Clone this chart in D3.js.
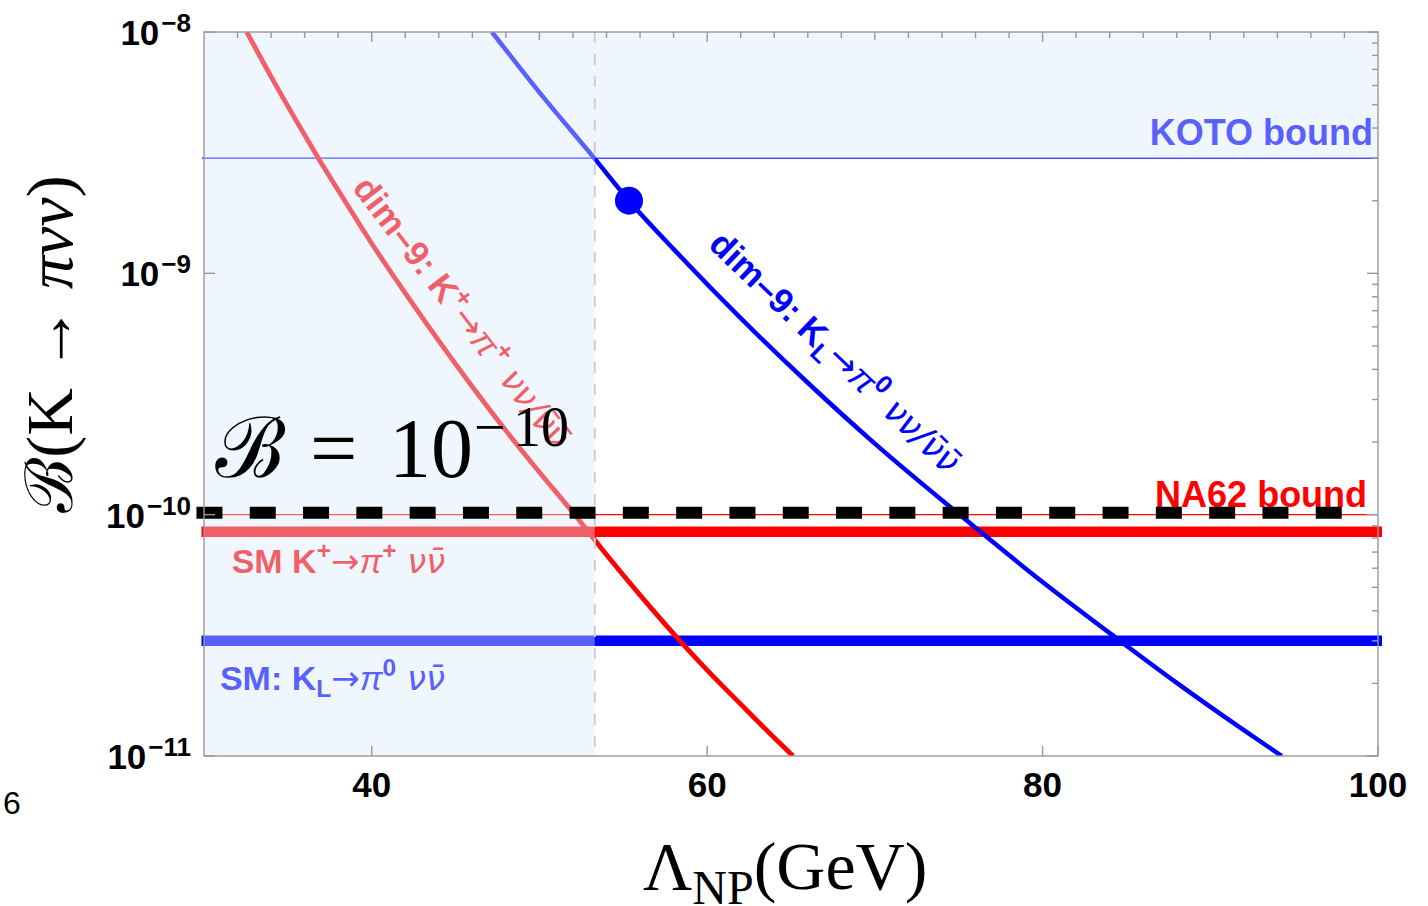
<!DOCTYPE html>
<html><head><meta charset="utf-8">
<script src="https://cdn.jsdelivr.net/npm/d3@7"></script>
<style>body{margin:0;background:#fff;} svg{display:block}</style>
</head><body><svg id="c" width="1428" height="906"></svg>
<script>
// ---------- data ----------
const xTickValues = [40, 60, 80, 100];
const xTickLabels = ["40", "60", "80", "100"];
const yTickExponents = [-8, -9, -10, -11];
const yTickLabels = ["\u22128", "\u22129", "\u221210", "\u221211"];

// dim-9 K+ -> pi+ nu nu curve
const lambdaKplus = [32.55, 34, 36, 36.82, 38, 40, 42, 44, 46, 48, 50, 52, 54, 56, 58.38, 60, 62, 64, 65.12];
const brKplus = [1.0e-8, 6.53e-9, 3.74e-9, 3.0e-9, 2.21e-9, 1.33e-9, 8.28e-10, 5.25e-10, 3.39e-10, 2.23e-10, 1.50e-10, 1.02e-10, 6.82e-11, 4.64e-11, 3.0e-11, 2.27e-11, 1.64e-11, 1.19e-11, 1.0e-11];

// dim-9 KL -> pi0 nu nu curve
const lambdaKL = [47.17, 50, 53.27, 55.34, 58, 62, 66, 70, 74.9, 80, 84.62, 88, 92, 94.26];
const brKL = [1.0e-8, 5.62e-9, 3.0e-9, 2.0e-9, 1.26e-9, 6.52e-10, 3.52e-10, 1.97e-10, 1.02e-10, 5.26e-11, 3.0e-11, 2.01e-11, 1.28e-11, 1.0e-11];

// benchmark point
const pointLambda = [55.34];
const pointBR = [2.0e-9];

// horizontal reference levels
const smKplus = 8.5e-11;
const smKL = 3.0e-11;
const kotoBound = 3.0e-9;
const na62Bound = 1.0e-10;
const benchmarkBR = 1.0e-10;
const lambdaExcluded = 53.3;

// ---------- setup ----------
const L = 204, R = 1378, T = 32, B = 756;
const svg = d3.select("#c");
const x = d3.scaleLinear().domain([30, 100]).range([L, R]);
const y = d3.scaleLog().domain([1e-11, 1e-8]).range([B, T]);

const RED = "#ff0000", BLUE = "#0000ff";
const SANS = "'Liberation Sans', Arial, Helvetica, sans-serif";
const SERIF = "'Liberation Serif', 'Times New Roman', 'DejaVu Serif', serif";
const DV = "'DejaVu Sans', sans-serif";

svg.append("defs").append("clipPath").attr("id", "clip")
  .append("rect").attr("x", L).attr("y", T).attr("width", R - L).attr("height", B - T);

function rich(sel, parts, size) {
  let shift = 0;
  parts.forEach(p => {
    const target = p.s === "sup" ? -size * 0.40 : p.s === "sub" ? size * 0.22 : 0;
    const ts = sel.append("tspan").text(p.t).attr("dy", target - shift);
    shift = target;
    if (p.s === "sup" || p.s === "sub") ts.attr("font-size", size * 0.72);
    if (p.it) ts.attr("font-style", "italic");
    if (p.nb) ts.attr("font-weight", "normal");
    if (p.ff) ts.attr("font-family", p.ff);
    if (p.fs) ts.attr("font-size", size * p.fs);
  });
}
const ARROW = {t: "\u2192", nb: 1, ff: DV, fs: 1.0};
const NUBAR = "\u03bd\u0304";

const base = svg.append("g");

// thin bound lines
base.append("line").attr("x1", x(30) - 2).attr("x2", x(100)).attr("y1", y(kotoBound)).attr("y2", y(kotoBound))
  .attr("stroke", BLUE).attr("stroke-width", 1.2);
base.append("line").attr("x1", x(30)).attr("x2", x(100)).attr("y1", y(na62Bound)).attr("y2", y(na62Bound))
  .attr("stroke", RED).attr("stroke-width", 1.2);

// SM thick lines
base.append("line").attr("x1", x(30) - 2.5).attr("x2", x(100) + 4).attr("y1", y(smKplus)).attr("y2", y(smKplus))
  .attr("stroke", RED).attr("stroke-width", 10.5);
base.append("line").attr("x1", x(30) - 2.5).attr("x2", x(100) + 4).attr("y1", y(smKL)).attr("y2", y(smKL))
  .attr("stroke", BLUE).attr("stroke-width", 10.5);

// curves
const line = d3.line().x(d => x(d[0])).y(d => y(d[1])).curve(d3.curveMonotoneX);
const cg = base.append("g").attr("clip-path", "url(#clip)");
cg.append("path").datum(lambdaKplus.map((l, i) => [l, brKplus[i]])).attr("d", line)
  .attr("fill", "none").attr("stroke", RED).attr("stroke-width", 4.8);
cg.append("path").datum(lambdaKL.map((l, i) => [l, brKL[i]])).attr("d", line)
  .attr("fill", "none").attr("stroke", BLUE).attr("stroke-width", 4.5);

// benchmark point
base.selectAll("circle.pt").data(pointLambda).enter().append("circle")
  .attr("cx", d => x(d)).attr("cy", (d, i) => y(pointBR[i])).attr("r", 14).attr("fill", BLUE);

// labels under overlay
const lbl = base.append("g").attr("font-family", SANS).attr("font-weight", "bold");
const t1 = lbl.append("text").attr("x", x(31.65)).attr("y", y(smKplus) + 41).attr("font-size", 34).attr("fill", RED);
rich(t1, [{t: "SM K"}, {t: "+", s: "sup"}, ARROW, {t: "\u03c0", it: 1, nb: 1}, {t: "+", s: "sup"}, {t: " \u03bd" + NUBAR, it: 1, nb: 1, ff: DV}], 34);
const t2 = lbl.append("text").attr("x", x(30.95)).attr("y", y(smKL) + 49).attr("font-size", 34).attr("fill", BLUE);
rich(t2, [{t: "SM: K"}, {t: "L", s: "sub"}, ARROW, {t: "\u03c0", it: 1, nb: 1}, {t: "0", s: "sup"}, {t: " \u03bd" + NUBAR, it: 1, nb: 1, ff: DV}], 34);
lbl.append("text").attr("x", x(99.7)).attr("y", y(kotoBound) - 13).attr("text-anchor", "end")
  .attr("font-size", 36).attr("fill", BLUE).text("KOTO bound");
lbl.append("text").attr("x", x(99.35)).attr("y", y(na62Bound) - 8).attr("text-anchor", "end")
  .attr("font-size", 36).attr("fill", RED).text("NA62 bound");

const t3 = lbl.append("text").attr("font-size", 35).attr("fill", RED)
  .attr("transform", `translate(${x(38.8)},${y(2.25e-9)}) rotate(52.5)`);
rich(t3, [{t: "dim\u20139: K"}, {t: "+", s: "sup"}, ARROW, {t: "\u03c0", it: 1, nb: 1}, {t: "+", s: "sup"}, {t: " \u03bd\u03bd/" + NUBAR + NUBAR, it: 1, nb: 1, ff: DV}], 35);
const t4 = lbl.append("text").attr("font-size", 35).attr("fill", BLUE)
  .attr("transform", `translate(${x(60.0)},${y(1.95e-9) + 43}) rotate(43.8)`);
rich(t4, [{t: "dim\u20139: K"}, {t: "L", s: "sub"}, ARROW, {t: "\u03c0", it: 1, nb: 1}, {t: "0", s: "sup"}, {t: " \u03bd\u03bd/" + NUBAR + NUBAR, it: 1, nb: 1, ff: DV}], 35);

// excluded-region overlay
const OV = "rgba(218,233,252,0.41)";
svg.append("rect").attr("x", x(30)).attr("y", y(1e-8)).attr("width", x(lambdaExcluded) - x(30)).attr("height", y(1e-11) - y(1e-8)).attr("fill", OV);
svg.append("rect").attr("x", x(lambdaExcluded)).attr("y", y(1e-8)).attr("width", x(100) - x(lambdaExcluded)).attr("height", y(kotoBound) - y(1e-8)).attr("fill", OV);

// vertical dashed line
svg.append("line").attr("x1", x(lambdaExcluded)).attr("x2", x(lambdaExcluded)).attr("y1", y(1e-8)).attr("y2", y(1e-11))
  .attr("stroke", "#cfcfcf").attr("stroke-width", 2).attr("stroke-dasharray", "11 11");

// black dashed benchmark line
svg.append("line").attr("x1", x(29.55)).attr("x2", x(29.55) + 1145.3).attr("y1", y(benchmarkBR) - 2).attr("y2", y(benchmarkBR) - 2)
  .attr("stroke", "#000").attr("stroke-width", 12).attr("stroke-dasharray", "26 27.3");

// B = 10^-10 annotation
const bt = svg.append("text").attr("y", 477).attr("font-family", SERIF).attr("fill", "#000").attr("font-size", 84);
bt.append("tspan").attr("x", 215).text("\u212c");
bt.append("tspan").attr("x", 310).text("=");
bt.append("tspan").attr("x", 389).text("10");
bt.append("tspan").attr("font-size", 56).attr("x", 474).attr("dy", -31).text("\u2212");
bt.append("tspan").attr("font-size", 56).attr("x", 513).text("10");

// frame and ticks
const fg = svg.append("g").attr("stroke", "#999").attr("stroke-width", 1.4);
fg.append("rect").attr("x", L).attr("y", T).attr("width", R - L).attr("height", B - T).attr("fill", "none");
const topMinor = d3.range(32, 100, 2).filter(v => v % 10 !== 0);
fg.selectAll("line.tm").data(topMinor).enter().append("line")
  .attr("x1", d => x(d)).attr("x2", d => x(d)).attr("y1", T).attr("y2", T + 6);
fg.selectAll("line.tM").data([40, 50, 60, 70, 80, 90]).enter().append("line")
  .attr("x1", d => x(d)).attr("x2", d => x(d)).attr("y1", T).attr("y2", d => T + (d % 20 === 0 ? 10 : 8));
fg.selectAll("line.bM").data(xTickValues).enter().append("line")
  .attr("x1", d => x(d)).attr("x2", d => x(d)).attr("y1", B).attr("y2", B - 10);
fg.selectAll("line.lM").data(yTickExponents).enter().append("line")
  .attr("x1", L).attr("x2", L + 11).attr("y1", d => y(Math.pow(10, d))).attr("y2", d => y(Math.pow(10, d)));
fg.selectAll("line.rM").data(yTickExponents).enter().append("line")
  .attr("x1", R).attr("x2", R - 11).attr("y1", d => y(Math.pow(10, d))).attr("y2", d => y(Math.pow(10, d)));
const rMinor = [];
[-11, -10, -9].forEach(e => { for (let k = 2; k <= 9; k++) rMinor.push(k * Math.pow(10, e)); });
fg.selectAll("line.rm").data(rMinor).enter().append("line")
  .attr("x1", R).attr("x2", R - 6).attr("y1", d => y(d)).attr("y2", d => y(d));

// tick labels
svg.append("g").selectAll("text").data(xTickValues).enter().append("text")
  .attr("x", d => x(d)).attr("y", 797).attr("text-anchor", "middle")
  .attr("font-family", SANS).attr("font-weight", "bold").attr("font-size", 35)
  .text((d, i) => xTickLabels[i]);
const yl = svg.append("g").selectAll("text").data(yTickExponents).enter().append("text")
  .attr("x", 191).attr("y", d => y(Math.pow(10, d)) + 13).attr("text-anchor", "end")
  .attr("font-family", SANS).attr("font-weight", "bold").attr("font-size", 35);
yl.append("tspan").text("10");
yl.append("tspan").attr("font-size", 26).attr("dx", 2).attr("dy", -13).text((d, i) => yTickLabels[i]);

// axis titles
const xt = svg.append("text").attr("x", 643).attr("y", 889).attr("font-family", SERIF).attr("font-size", 68);
xt.append("tspan").text("\u039b");
xt.append("tspan").attr("font-size", 48).attr("dy", 15).text("NP");
xt.append("tspan").attr("dy", -15).text("(GeV)");

const ytl = svg.append("text").attr("transform", "translate(72,344) rotate(-90)").attr("text-anchor", "middle")
  .attr("font-family", SERIF).attr("font-size", 66);
ytl.append("tspan").text("\u212c(K \u2192 ");
ytl.append("tspan").attr("font-style", "italic").text("\u03c0\u03bd\u03bd");
ytl.append("tspan").text(")");

// stray page number
svg.append("text").attr("x", 3).attr("y", 814).attr("font-family", SANS).attr("font-size", 32).text("6");
</script>
</body></html>
